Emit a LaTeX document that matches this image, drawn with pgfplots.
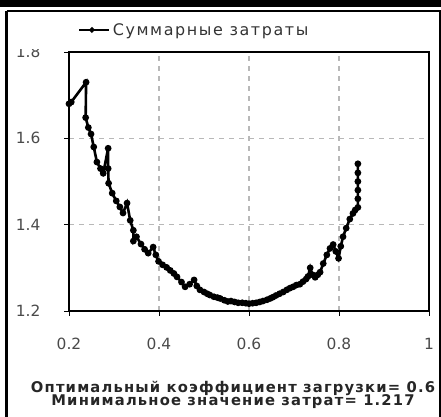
\documentclass[border=0pt]{standalone}
\usepackage{pgfplots}
\pgfplotsset{compat=1.18}
\usepackage{fontspec}
\setmainfont{DejaVu Sans}
\newfontfamily\legfont[LetterSpace=10]{DejaVu Sans}
\newfontfamily\capfont[LetterSpace=8]{DejaVu Sans Bold}
\definecolor{tickgray}{HTML}{4A4A4A}
\definecolor{gridgray}{HTML}{B8B8B8}
\begin{document}
\begin{tikzpicture}
\path[use as bounding box] (0,0) rectangle (441bp,417bp);
\fill[black] (0,410bp) rectangle (441bp,417bp);
\draw[line width=1.2bp] (6.5bp,406bp) -- (441bp,406bp);
\draw[line width=1.2bp] (440bp,406bp) -- (440bp,0);
\draw[line width=3bp] (6.5bp,406bp) -- (6.5bp,0);
\begin{axis}[
  at={(69bp,106bp)}, anchor=south west,
  scale only axis, width=360bp, height=259bp,
  xmin=0.2, xmax=1.0, ymin=1.2, ymax=1.8,
  xtick={0.2,0.4,0.6,0.8,1.0},
  xticklabels={0.2,0.4,0.6,0.8,1},
  ytick={1.2,1.4,1.6,1.8},
  yticklabels={1.2,1.4,1.6,1.8},
  xtick pos=left, ytick pos=left,
  tick align=outside, major tick length=5bp,
  tick style={black, line width=0.8bp},
  axis line style={black, line width=1.3bp},
  grid=major,
  major grid style={gridgray, line width=1.1bp, dash pattern=on 5bp off 5bp},
  /pgf/number format/assume math mode=true,
  ticklabel style={font=\fontsize{15.5}{18}\selectfont, text=tickgray},
  xticklabel style={yshift=-19bp},
  yticklabel style={xshift=-20bp},
  legend style={at={(0.025,1.085)}, anchor=west, draw=none, fill=none,
    font=\legfont\fontsize{16}{18}\selectfont, text=black!80, inner sep=0pt},
  legend image code/.code={\path (0bp,0bp) -- (30bp,0bp);\draw[line width=2bp, mark size=1.6bp, mark repeat=2, mark phase=2] plot coordinates {(0bp,0bp) (12.5bp,0bp) (25bp,0bp)};},
]
\addplot[black, line width=2.6bp, mark=*, mark size=2bp] coordinates {
(0.200,1.680) (0.205,1.684) (0.238,1.730) (0.237,1.648) (0.243,1.625)
(0.249,1.610) (0.255,1.580) (0.262,1.545) (0.270,1.530) (0.276,1.519)
(0.287,1.577) (0.287,1.530) (0.288,1.496) (0.296,1.473) (0.305,1.455)
(0.313,1.441) (0.320,1.427) (0.329,1.450) (0.336,1.410) (0.343,1.387)
(0.343,1.362) (0.350,1.372) (0.360,1.355) (0.368,1.343) (0.376,1.334)
(0.387,1.348) (0.393,1.330) (0.399,1.315) (0.408,1.307) (0.417,1.301)
(0.425,1.294) (0.433,1.287) (0.440,1.279) (0.450,1.267) (0.458,1.256)
(0.468,1.262) (0.478,1.272) (0.484,1.258) (0.491,1.249) (0.500,1.244)
(0.507,1.240) (0.513,1.237) (0.522,1.233) (0.530,1.231) (0.536,1.229)
(0.545,1.225) (0.553,1.222) (0.560,1.223) (0.568,1.221) (0.576,1.219)
(0.585,1.219) (0.593,1.218) (0.600,1.217) (0.608,1.218) (0.616,1.219)
(0.624,1.221) (0.631,1.223) (0.640,1.226) (0.647,1.229) (0.653,1.232)
(0.660,1.236) (0.668,1.240) (0.676,1.244) (0.684,1.249) (0.691,1.253)
(0.698,1.256) (0.705,1.260) (0.713,1.262) (0.720,1.268) (0.727,1.274)
(0.731,1.280) (0.736,1.300) (0.741,1.284) (0.747,1.278) (0.753,1.284)
(0.758,1.290) (0.765,1.310) (0.773,1.330) (0.780,1.345) (0.787,1.354)
(0.793,1.338) (0.799,1.322) (0.804,1.350) (0.809,1.372) (0.816,1.392)
(0.824,1.413) (0.831,1.426) (0.836,1.434) (0.842,1.440) (0.842,1.460)
(0.842,1.480) (0.842,1.500) (0.842,1.520) (0.842,1.541)
};
\addlegendentry{Суммарные затраты}
\end{axis}
\fill[white] (12bp,368bp) rectangle (62bp,403bp);
\node[font=\capfont\fontsize{14.8}{17}\selectfont, text=black!85] at (233bp,29bp) {Оптимальный коэффициент загрузки= 0.6};
\node[font=\capfont\fontsize{14.8}{17}\selectfont, text=black!85] at (233bp,15bp) {Минимальное значение затрат= 1.217};
\end{tikzpicture}
\end{document}
